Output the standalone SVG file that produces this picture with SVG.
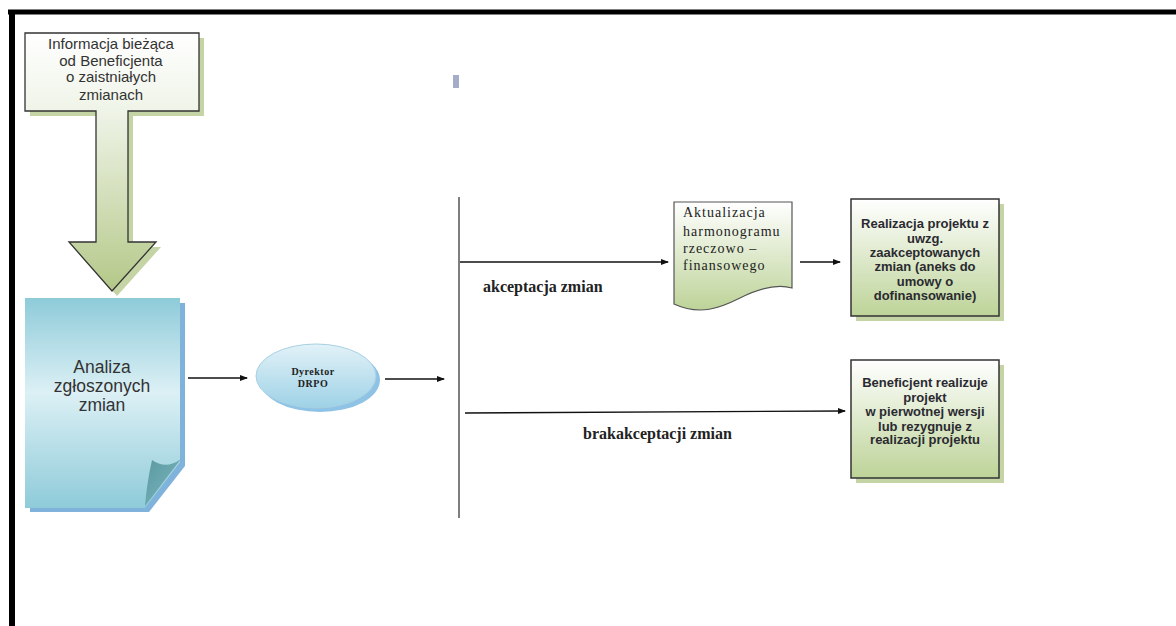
<svg xmlns="http://www.w3.org/2000/svg" width="1176" height="626" viewBox="0 0 1176 626">
<style>
.sans{font-family:"Liberation Sans",Arial,sans-serif;fill:#333}
.bsans{font-family:"Liberation Sans",Arial,sans-serif;font-weight:bold;fill:#2a2a30;font-size:13px;text-anchor:middle}
.serif{font-family:"Liberation Serif","Times New Roman",serif;fill:#222}
.conn{stroke:#111;stroke-width:1.3;fill:none;marker-end:url(#ah)}
.box{stroke:#333;stroke-width:1.5}
.shadowG{fill:#c4d4a4}
</style>
<defs>
<marker id="ah" markerWidth="8" markerHeight="8" refX="7" refY="4" orient="auto" markerUnits="userSpaceOnUse">
<path d="M0,1 L8,4 L0,7 Z" fill="#111"/>
</marker>
<linearGradient id="gInfo" gradientUnits="userSpaceOnUse" x1="0" y1="33" x2="0" y2="291">
<stop offset="0" stop-color="#ffffff"/>
<stop offset="0.3" stop-color="#eff4e8"/>
<stop offset="1" stop-color="#b4c888"/>
</linearGradient>
<linearGradient id="gDoc" x1="0" y1="0" x2="0" y2="1">
<stop offset="0" stop-color="#8ecbd9"/>
<stop offset="0.45" stop-color="#dcf0f5"/>
<stop offset="1" stop-color="#8ecbd9"/>
</linearGradient>
<linearGradient id="gEll" x1="0" y1="0" x2="0" y2="1">
<stop offset="0" stop-color="#e2f2f8"/>
<stop offset="1" stop-color="#9ed2e6"/>
</linearGradient>
<linearGradient id="gGreen" x1="0" y1="0" x2="0" y2="1">
<stop offset="0" stop-color="#ffffff"/>
<stop offset="1" stop-color="#bdd398"/>
</linearGradient>
<linearGradient id="gFold" x1="0" y1="0" x2="1" y2="1">
<stop offset="0" stop-color="#5a98a0"/>
<stop offset="1" stop-color="#7fb8c0"/>
</linearGradient>
</defs>

<g id="frame">
<line x1="8" y1="12" x2="1176" y2="12" stroke="#000" stroke-width="5"/>
<line x1="12" y1="10" x2="12" y2="626" stroke="#000" stroke-width="6"/>
<rect x="453" y="75" width="6" height="13" fill="#a4acc8"/>
</g>

<g id="connectors">
<line x1="459" y1="197" x2="459" y2="518" stroke="#555" stroke-width="1.5"/>
<path class="conn" d="M188,378 H247"/>
<path class="conn" d="M385,379 H444"/>
<path class="conn" d="M460,262 H668"/>
<path class="conn" d="M465,413 L845,411"/>
<path class="conn" d="M800,262 H840"/>
<text class="serif" x="483" y="292" font-size="16" font-weight="bold">akceptacja zmian</text>
<text class="serif" x="583" y="439" font-size="16" font-weight="bold">brakakceptacji zmian</text>
</g>

<g id="info">
<path d="M30,38 H204 V116 H133 V247 H161 L117,296 L74,247 H101 V116 H30 Z" class="shadowG"/>
<path d="M25,33 H199 V111 H128 V242 H156 L112,291 L69,242 H96 V111 H25 Z" fill="url(#gInfo)" stroke="#333" stroke-width="1.3"/>
<g class="sans" font-size="15" text-anchor="middle" fill="#3a3442">
<text x="111" y="49">Informacja bieżąca</text>
<text x="111" y="66">od Beneficjenta</text>
<text x="111" y="82">o zaistniałych</text>
<text x="111" y="100">zmianach</text>
</g>
</g>

<g id="analiza">
<path d="M30,303 H185 V466 L149,512 H30 Z" fill="#7fb3dc"/>
<path d="M25,298 H180 V462 L145,508 H25 Z" fill="url(#gDoc)"/>
<path d="M152,460 Q166,470 181,459 L145,506 Q147,482 152,460 Z" fill="url(#gFold)"/>
<g class="sans" font-size="17.5" text-anchor="middle">
<text x="102" y="373">Analiza</text>
<text x="102" y="392">zgłoszonych</text>
<text x="102" y="411">zmian</text>
</g>
</g>

<g id="dyrektor">
<ellipse cx="320" cy="380" rx="60" ry="32" fill="#8fc3e6"/>
<ellipse cx="316" cy="376" rx="60" ry="32" fill="url(#gEll)" stroke="#a8d0e2" stroke-width="1"/>
<g class="serif" font-size="10" font-weight="bold" text-anchor="middle" letter-spacing="0.5">
<text x="313" y="375">Dyrektor</text>
<text x="313" y="387">DRPO</text>
</g>
</g>

<g id="aktualizacja">
<path d="M674,202 H792 V288 C778,284 760,288 740,298 C720,308 700,316 674,304 Z" fill="url(#gGreen)" stroke="#555" stroke-width="1.2"/>
<g class="serif" font-size="14" letter-spacing="1">
<text x="683" y="217">Aktualizacja</text>
<text x="683" y="236">harmonogramu</text>
<text x="683" y="253">rzeczowo –</text>
<text x="683" y="270">finansowego</text>
</g>
</g>

<g id="realizacja">
<rect x="856" y="204" width="148" height="117" class="shadowG"/>
<rect x="851" y="199" width="148" height="117" fill="url(#gGreen)" class="box"/>
<text class="bsans" x="925" y="228">Realizacja projektu z</text>
<text class="bsans" x="925" y="243">uwzg.</text>
<text class="bsans" x="925" y="257">zaakceptowanych</text>
<text class="bsans" x="925" y="271">zmian (aneks do</text>
<text class="bsans" x="925" y="286">umowy o</text>
<text class="bsans" x="925" y="300">dofinansowanie)</text>
</g>

<g id="beneficjent">
<rect x="856" y="365" width="148" height="118" class="shadowG"/>
<rect x="851" y="360" width="148" height="118" fill="url(#gGreen)" class="box"/>
<text class="bsans" x="925" y="387">Beneficjent realizuje</text>
<text class="bsans" x="925" y="402">projekt</text>
<text class="bsans" x="925" y="416">w pierwotnej wersji</text>
<text class="bsans" x="925" y="431">lub rezygnuje z</text>
<text class="bsans" x="925" y="444">realizacji projektu</text>
</g>
</svg>
